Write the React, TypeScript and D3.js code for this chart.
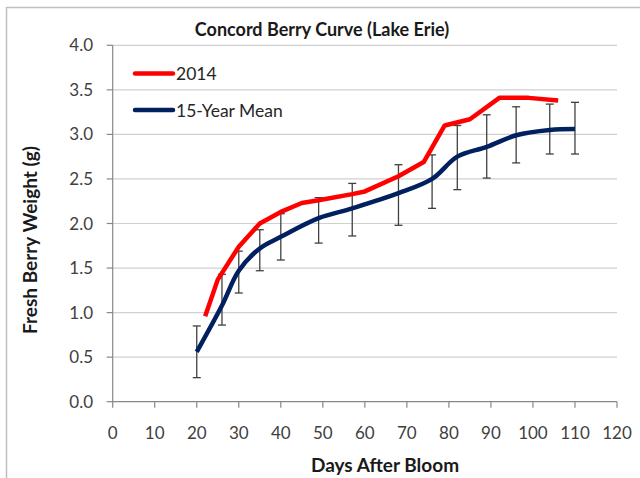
import React from "react";
import * as d3 from "d3";

const meanDays = [20, 26, 30, 35, 40, 49, 57, 68, 76, 82, 89, 96, 104, 110];
const meanWeight = [0.56, 1.08, 1.47, 1.72, 1.85, 2.06, 2.17, 2.34, 2.5, 2.75, 2.86, 2.99, 3.05, 3.06];
const meanUpper = [0.85, 1.43, 1.69, 1.93, 2.11, 2.29, 2.45, 2.66, 2.77, 3.1, 3.22, 3.31, 3.34, 3.36];
const meanLower = [0.27, 0.86, 1.22, 1.47, 1.59, 1.78, 1.86, 1.98, 2.17, 2.38, 2.51, 2.68, 2.78, 2.78];

const days2014 = [22, 25, 30, 35, 40, 45, 49, 57, 60, 68, 74, 79, 85, 92, 99, 106];
const weight2014 = [0.96, 1.37, 1.74, 2.0, 2.13, 2.23, 2.26, 2.33, 2.36, 2.53, 2.69, 3.1, 3.17, 3.41, 3.41, 3.38];

const xTicks = [0, 10, 20, 30, 40, 50, 60, 70, 80, 90, 100, 110, 120];
const yTicks = [0, 0.5, 1, 1.5, 2, 2.5, 3, 3.5, 4];

const seriesNames = ["2014", "15-Year Mean"];
const seriesColors = ["#ff0000", "#002060"];

const FONT = "Lato, 'Liberation Sans', sans-serif";

export default function App() {
  const W = 640, H = 478;
  const x = d3.scaleLinear().domain([0, 120]).range([112.7, 617]);
  const y = d3.scaleLinear().domain([0, 4]).range([401.7, 45.3]);

  const redLine = d3.line<number>()
    .x((_, i) => x(days2014[i]))
    .y((d) => y(d))
    .curve(d3.curveLinear)(weight2014) as string;

  const blueLine = d3.line<number>()
    .x((_, i) => x(meanDays[i]))
    .y((d) => y(d))
    .curve(d3.curveCatmullRom.alpha(0.5))(meanWeight) as string;

  return (
    <svg width={W} height={H} style={{ position: "absolute", left: 0, top: 0, background: "#fff" }} fontFamily={FONT}>
      <rect x={6.5} y={7.5} width={W} height={H} fill="none" stroke="#bfbfbf" strokeWidth={1.5} />
      {/* title */}
      <text x={322} y={36} textAnchor="middle" fontSize={18} fontWeight="bold" fill="#1a1a1a">
        Concord  Berry Curve (Lake Erie)
      </text>
      {/* gridlines */}
      {yTicks.filter((t) => t > 0).map((t) => (
        <line key={"g" + t} x1={x(0)} x2={x(120)} y1={y(t)} y2={y(t)} stroke="#d0d0d0" strokeWidth={1.2} />
      ))}
      {/* axes */}
      <line x1={x(0)} x2={x(0)} y1={y(4)} y2={y(0)} stroke="#888" strokeWidth={1.2} />
      <line x1={x(0)} x2={x(120)} y1={y(0)} y2={y(0)} stroke="#888" strokeWidth={1.2} />
      {yTicks.map((t) => (
        <g key={"y" + t}>
          <line x1={x(0) - 6} x2={x(0)} y1={y(t)} y2={y(t)} stroke="#888" strokeWidth={1.2} />
          <text x={93} y={y(t) + 6} textAnchor="end" fontSize={17} fill="#404040">
            {t.toFixed(1)}
          </text>
        </g>
      ))}
      {xTicks.map((t) => (
        <g key={"x" + t}>
          <line x1={x(t)} x2={x(t)} y1={y(0)} y2={y(0) + 6} stroke="#888" strokeWidth={1.2} />
          <text x={x(t)} y={439} textAnchor="middle" fontSize={17} fill="#404040">
            {t}
          </text>
        </g>
      ))}
      {/* axis titles */}
      <text x={385} y={472} textAnchor="middle" fontSize={19} fontWeight="bold" fill="#1a1a1a">
        Days After Bloom
      </text>
      <text transform={`translate(37,240) rotate(-90)`} textAnchor="middle" fontSize={19} fontWeight="bold" fill="#1a1a1a">
        Fresh Berry Weight (g)
      </text>
      {/* error bars */}
      {meanDays.map((d, i) => (
        <g key={"e" + i} stroke="#404040" strokeWidth={1.3}>
          <line x1={x(d)} x2={x(d)} y1={y(meanUpper[i])} y2={y(meanLower[i])} />
          <line x1={x(d) - 4} x2={x(d) + 4} y1={y(meanUpper[i])} y2={y(meanUpper[i])} />
          <line x1={x(d) - 4} x2={x(d) + 4} y1={y(meanLower[i])} y2={y(meanLower[i])} />
        </g>
      ))}
      {/* lines */}
      <path d={redLine} fill="none" stroke={seriesColors[0]} strokeWidth={4.5} strokeLinejoin="round" />
      <path d={blueLine} fill="none" stroke={seriesColors[1]} strokeWidth={4.5} strokeLinejoin="round" />
      {/* legend */}
      {seriesNames.map((n, i) => (
        <g key={"l" + i}>
          <line x1={135} x2={173} y1={73.5 + i * 36.5} y2={73.5 + i * 36.5} stroke={seriesColors[i]} strokeWidth={4.5} strokeLinecap="round" />
          <text x={176} y={80 + i * 36.5} fontSize={17.5} fill="#262626">
            {n}
          </text>
        </g>
      ))}
    </svg>
  );
}
